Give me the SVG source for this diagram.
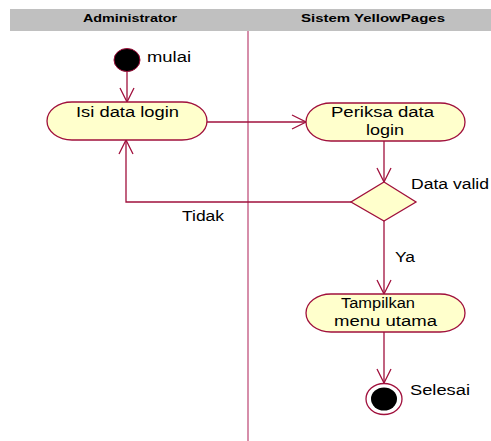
<svg xmlns="http://www.w3.org/2000/svg" width="491" height="441" viewBox="0 0 491 441">
  <defs>
    <style>
      .lane-title { font-family: "Liberation Sans", Arial, sans-serif; font-size: 11px; font-weight: bold; fill: #000; }
      .label { font-family: "Liberation Sans", Arial, sans-serif; font-size: 15.5px; fill: #000; }
      .action { fill: #ffffcc; stroke: #a0103c; stroke-width: 1.3; }
      .flow { fill: none; stroke: #a0103c; stroke-width: 1.3; }
    </style>
    <marker id="open-arrow" markerUnits="userSpaceOnUse" markerWidth="16" markerHeight="16" viewBox="-15 -8 16 16" refX="0" refY="0" orient="auto">
      <path d="M-14,-7 L0,0 L-14,7" fill="none" stroke="#a0103c" stroke-width="1.3"/>
    </marker>
  </defs>

  <rect width="491" height="441" fill="#ffffff"/>

  <!-- swimlane header and divider -->
  <g id="swimlanes">
    <rect x="10" y="9" width="481" height="22" fill="#c0c0c0"/>
    <text class="lane-title" x="83" y="22" textLength="94" lengthAdjust="spacingAndGlyphs">Administrator</text>
    <text class="lane-title" x="301" y="22" textLength="144" lengthAdjust="spacingAndGlyphs">Sistem YellowPages</text>
    <line x1="248" y1="31" x2="248" y2="441" stroke="#c8688e" stroke-width="1.5"/>
  </g>

  <!-- connectors -->
  <g id="connectors">
    <path class="flow" d="M127,71 L127,102" marker-end="url(#open-arrow)"/>
    <path class="flow" d="M207,122 L306,122" marker-end="url(#open-arrow)"/>
    <path class="flow" d="M384,141 L384,182" marker-end="url(#open-arrow)"/>
    <path class="flow" d="M351,202 L126,202 L126,140" marker-end="url(#open-arrow)"/>
    <path class="flow" d="M384,221 L384,294" marker-end="url(#open-arrow)"/>
    <path class="flow" d="M384,332 L384,383" marker-end="url(#open-arrow)"/>
    <text class="label" x="182" y="221" textLength="42" lengthAdjust="spacingAndGlyphs">Tidak</text>
    <text class="label" x="395" y="262" textLength="20" lengthAdjust="spacingAndGlyphs">Ya</text>
  </g>

  <g id="start">
    <ellipse cx="127" cy="60" rx="13" ry="11.5" fill="#000" stroke="#a0103c" stroke-width="1"/>
    <text class="label" x="147" y="62" textLength="44" lengthAdjust="spacingAndGlyphs">mulai</text>
  </g>

  <g id="isi-data-login">
    <rect class="action" x="47" y="102" width="160" height="38" rx="25" ry="19"/>
    <text class="label" x="76" y="117" textLength="103" lengthAdjust="spacingAndGlyphs">Isi data login</text>
  </g>

  <g id="periksa-data-login">
    <rect class="action" x="306" y="103" width="159" height="38" rx="25" ry="19"/>
    <text class="label" x="331" y="117" textLength="103" lengthAdjust="spacingAndGlyphs">Periksa data</text>
    <text class="label" x="366" y="135" textLength="38" lengthAdjust="spacingAndGlyphs">login</text>
  </g>

  <g id="data-valid">
    <polygon class="action" points="384,182 416,202 384,221 351,202"/>
    <text class="label" x="411" y="189" textLength="78" lengthAdjust="spacingAndGlyphs">Data valid</text>
  </g>

  <g id="tampilkan-menu-utama">
    <rect class="action" x="306" y="294" width="159" height="38" rx="25" ry="19"/>
    <text class="label" x="341" y="308" textLength="74" lengthAdjust="spacingAndGlyphs">Tampilkan</text>
    <text class="label" x="334" y="326" textLength="103" lengthAdjust="spacingAndGlyphs">menu utama</text>
  </g>

  <g id="end">
    <ellipse cx="384" cy="399" rx="18" ry="15.5" fill="#ffffff" stroke="#a0103c" stroke-width="1.3"/>
    <ellipse cx="384" cy="399" rx="13" ry="11.5" fill="#000"/>
    <text class="label" x="410" y="395" textLength="60" lengthAdjust="spacingAndGlyphs">Selesai</text>
  </g>
</svg>
